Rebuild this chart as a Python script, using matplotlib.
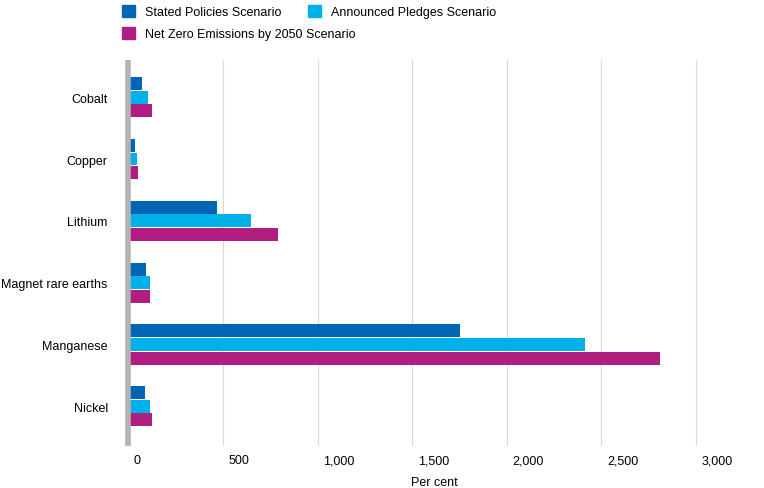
import matplotlib.pyplot as plt
import numpy as np
from matplotlib.patches import Patch

plt.rcParams['font.family'] = 'Liberation Sans'

minerals = ['Cobalt', 'Copper', 'Lithium', 'Magnet rare earths', 'Manganese', 'Nickel']
steps = [72, 36, 466, 93, 1750, 88]
aps = [103, 46, 647, 114, 2413, 114]
nze = [124, 52, 792, 114, 2812, 124]
series = ['Stated Policies Scenario', 'Announced Pledges Scenario',
          'Net Zero Emissions by 2050 Scenario']
colors = ['#0066b3', '#00b0e8', '#b01e82']

fig = plt.figure(figsize=(7.64, 4.89), dpi=100)
ax = fig.add_axes([0.163, 0.085, 0.81, 0.79])

y = np.arange(len(minerals))
h = 0.22
for i, (vals, c) in enumerate(zip([steps, aps, nze], colors)):
    ax.barh(y + (i - 1) * h, vals, height=h * 0.95, color=c, zorder=3)

ax.set_ylim(len(minerals) - 0.5 + 0.15, -0.5 - 0.1)
ax.set_xlim(-20, 3250)
ticks = [0, 500, 1000, 1500, 2000, 2500, 3000]
ax.set_xticks(ticks)
ax.set_xticklabels([])
for t in ticks:
    ax.text(t + 30, -0.02, f'{t:,}', transform=ax.get_xaxis_transform(),
            ha='left', va='top', fontsize=9)
ax.tick_params(axis='x', length=0)
ax.grid(axis='x', color='#d9d9d9', lw=0.8, zorder=0)
ax.set_yticks(y)
ax.set_yticklabels(minerals, fontsize=9)
ax.tick_params(axis='y', length=0, pad=12)
for s in ax.spines.values():
    s.set_visible(False)
ax.axvline(0, color='#b3b3b3', lw=4, zorder=4)
ax.set_xlabel('Per cent', fontsize=9, labelpad=18)

handles = [Patch(color=c, label=l) for c, l in zip(colors, series)]
fig.legend(handles=handles[:2], loc='upper left', bbox_to_anchor=(0.145, 1.01),
           ncol=2, frameon=False, fontsize=9, handlelength=1, handleheight=1,
           columnspacing=2.2)
fig.legend(handles=handles[2:], loc='upper left', bbox_to_anchor=(0.145, 0.965),
           frameon=False, fontsize=9, handlelength=1, handleheight=1)

fig.savefig('out.png', dpi=100)
